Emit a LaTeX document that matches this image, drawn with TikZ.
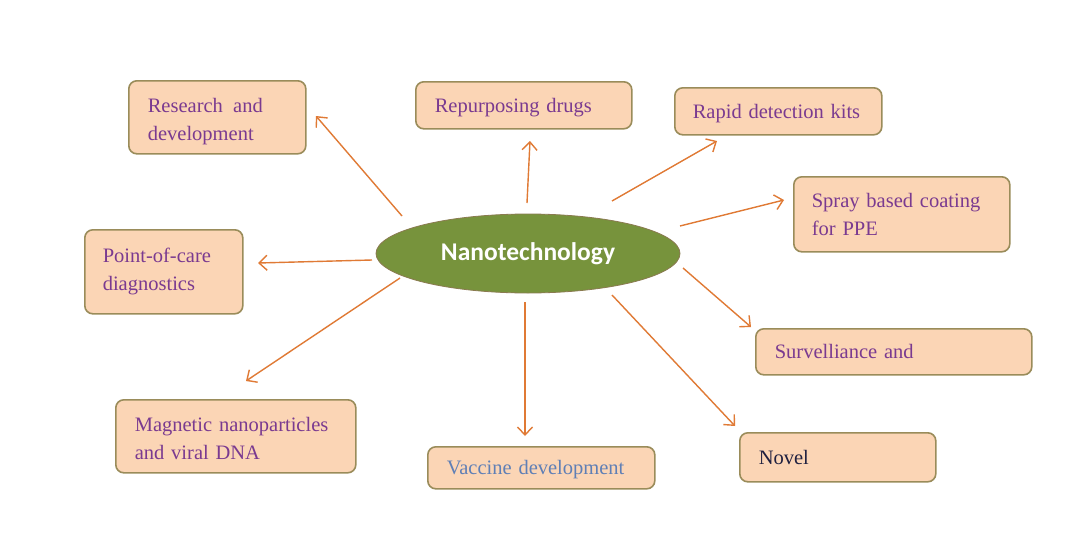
\documentclass[tikz,border=0pt]{standalone}
\usepackage{fontspec}
\setmainfont{Liberation Serif}
\newfontfamily\nanofont{Carlito}
\usetikzlibrary{arrows.meta,shapes.geometric}
\definecolor{boxfill}{HTML}{FBD5B5}
\definecolor{boxdraw}{HTML}{9A8C5A}
\definecolor{txtpurple}{HTML}{7A3A90}
\definecolor{txtblue}{HTML}{5F7FB5}
\definecolor{txtnavy}{HTML}{1F2040}
\definecolor{ellfill}{HTML}{77933C}
\definecolor{elldraw}{HTML}{8A7A50}
\definecolor{arr}{HTML}{E07A35}
\tikzset{
  infobox/.style={draw=boxdraw, fill=boxfill, rounded corners=8pt, line width=1.6pt,
    font=\fontsize{20.5}{28}\selectfont, text=txtpurple, align=left,
    inner xsep=19pt, inner ysep=0pt, anchor=north west},
  oneline/.style={text height=19pt, text depth=5pt},
  conn/.style={draw=arr, line width=1.4pt, -{Straight Barb[length=8pt,width=15pt,line width=1.4pt]}}
}
\begin{document}
\begin{tikzpicture}[x=1pt,y=-1pt]
\useasboundingbox[fill=white] (0,0) rectangle (1072,544);
% central ellipse
\node[ellipse, fill=ellfill, draw=elldraw, line width=0.8pt, minimum width=304pt, minimum height=79pt,
  text=white, font=\nanofont\bfseries\fontsize{25.5}{28}\selectfont] (nano) at (528,253.5) {Nanotechnology};
% boxes
\node[infobox, minimum width=177pt, minimum height=73pt, text width=139pt] (rd) at (128,80) {\rule{0pt}{22pt}Research\, and\\development};
\node[infobox, oneline, minimum width=216pt, minimum height=47pt, text width=178pt] (rep) at (415,81) {Repurposing drugs};
\node[infobox, oneline, minimum width=207pt, minimum height=47pt, text width=171pt, inner xsep=18pt] (rapid) at (674,87) {Rapid detection kits};
\node[infobox, minimum width=216pt, minimum height=75pt, text width=180pt, inner xsep=18pt] (spray) at (793,176) {Spray based coating\\for PPE};
\node[infobox, minimum width=158pt, minimum height=84pt, text width=122pt, inner xsep=18pt] (poc) at (84,229) {Point-of-care\\diagnostics};
\node[infobox, oneline, minimum width=276pt, minimum height=46pt, text width=238pt] (surv) at (755,328) {Survelliance and};
\node[infobox, minimum width=240pt, minimum height=73pt, text width=202pt] (mag) at (115,399) {\rule{0pt}{18pt}Magnetic nanoparticles\\and viral DNA};
\node[infobox, oneline, minimum width=227pt, minimum height=42pt, text width=189pt, text=txtblue] (vac) at (427,446) {Vaccine development};
\node[infobox, oneline, minimum width=196pt, minimum height=49pt, text width=158pt, text=txtnavy] (novel) at (739,432) {Novel};
% arrow end points
\coordinate (s1) at (402,216); \coordinate (e1) at (316,116);
\coordinate (s2) at (527,203); \coordinate (e2) at (530,141);
\coordinate (s3) at (612,201); \coordinate (e3) at (717,141);
\coordinate (s4) at (680,226); \coordinate (e4) at (784,200);
\coordinate (s5) at (372,260); \coordinate (e5) at (258,263);
\coordinate (s6) at (683,268); \coordinate (e6) at (751,327);
\coordinate (s7) at (400,278); \coordinate (e7) at (246,381);
\coordinate (s8) at (525,302); \coordinate (e8) at (525,436);
\coordinate (s9) at (612,295); \coordinate (e9) at (735,426);
\draw[conn] (s1) -- (e1);
\draw[conn] (s2) -- (e2);
\draw[conn] (s3) -- (e3);
\draw[conn] (s4) -- (e4);
\draw[conn] (s5) -- (e5);
\draw[conn] (s6) -- (e6);
\draw[conn] (s7) -- (e7);
\draw[conn] (s8) -- (e8);
\draw[conn] (s9) -- (e9);
\end{tikzpicture}
\end{document}
